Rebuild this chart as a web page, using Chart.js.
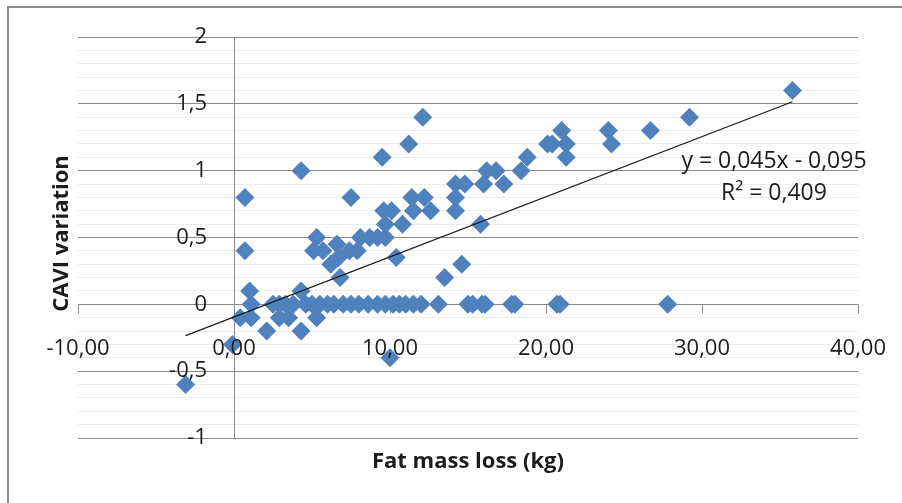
<!DOCTYPE html>
<html>
<head>
<meta charset="utf-8">
<script src="https://cdn.jsdelivr.net/npm/chart.js@4.4.0/dist/chart.umd.min.js"></script>
<style>
  html, body { margin: 0; padding: 0; background: #fff; }
</style>
</head>
<body>
<canvas id="chart" width="902" height="503"></canvas>
<script>
// Fat mass loss (kg) per patient
var fatLoss = [-3.1, -0.1, 0.4, 0.7, 0.7, 1.0, 1.1, 1.1, 2.1, 2.9, 2.9, 3.5, 4.3, 4.3, 4.3,
    5.3, 5.1, 5.3, 5.7, 6.2, 6.6, 6.7, 6.8, 7.4, 7.5, 7.9, 8.1, 8.7, 9.2, 9.5, 9.6, 9.7, 9.7,
    10.1, 10.4, 10.8, 10.0, 11.2, 11.4, 11.5, 12.1, 12.2, 12.6, 13.5, 14.2, 14.2, 14.2, 14.6,
    14.8, 15.8, 16.0, 16.2, 16.8, 17.3, 18.4, 18.8, 20.1, 20.4, 21.0, 21.3, 21.3, 24.0, 24.2,
    26.7, 29.2, 35.8,
    2.5, 3.3, 3.8, 4.6, 5.0, 5.5, 6.0, 6.4, 7.0, 7.5, 8.0, 8.6, 9.2, 9.7, 10.2, 10.6, 11.0,
    11.5, 12.0, 13.1, 15.0, 15.3, 15.9, 16.1, 17.8, 18.0, 20.7, 20.9, 27.8];

// CAVI variation for the same patients
var caviVar = [-0.6, -0.3, -0.1, 0.8, 0.4, 0.1, 0, -0.1, -0.2, 0, -0.1, -0.1, 1.0, 0.1, -0.2,
    -0.1, 0.4, 0.5, 0.4, 0.3, 0.45, 0.35, 0.2, 0.4, 0.8, 0.4, 0.5, 0.5, 0.5, 1.1, 0.7, 0.6, 0.5,
    0.7, 0.35, 0.6, -0.4, 1.2, 0.8, 0.7, 1.4, 0.8, 0.7, 0.2, 0.9, 0.8, 0.7, 0.3,
    0.9, 0.6, 0.9, 1.0, 1.0, 0.9, 1.0, 1.1, 1.2, 1.2, 1.3, 1.2, 1.1, 1.3, 1.2,
    1.3, 1.4, 1.6,
    0, 0, 0, 0, 0, 0, 0, 0, 0, 0, 0, 0, 0, 0, 0, 0, 0,
    0, 0, 0, 0, 0, 0, 0, 0, 0, 0, 0, 0];

// axis ticks (Excel style, comma decimals)
var xTicks = [-10, 0, 10, 20, 30, 40];
var xTickLabels = ['-10,00', '0,00', '10,00', '20,00', '30,00', '40,00'];
var yTicks = [2, 1.5, 1, 0.5, 0, -0.5, -1];
var yTickLabels = ['2', '1,5', '1', '0,5', '0', '-0,5', '-1'];

// linear trendline printed on the chart
var trendSlope = 0.045;
var trendIntercept = -0.095;
var trendText = ['y = 0,045x - 0,095', 'R\u00B2 = 0,409'];

var points = fatLoss.map(function (x, i) { return { x: x, y: caviVar[i] }; });
var xMin = Math.min.apply(null, fatLoss);
var xMax = Math.max.apply(null, fatLoss);
var trend = [
    { x: xMin, y: trendSlope * xMin + trendIntercept },
    { x: xMax, y: trendSlope * xMax + trendIntercept }
];

var FONT = '"Open Sans", "DejaVu Sans", sans-serif';
var AXIS_GRAY = '#898989';

// frame, axis through zero, labels and titles placed like Excel does it
var excelAxes = {
    id: 'excelAxes',
    beforeDraw: function (chart) {
        var ctx = chart.ctx;
        ctx.save();
        ctx.fillStyle = '#fff';
        ctx.fillRect(0, 0, chart.width, chart.height);
        ctx.strokeStyle = '#8c8c8c';
        ctx.lineWidth = 2;
        ctx.strokeRect(8, 7, chart.width + 20, chart.height + 20);
        ctx.restore();
    },
    beforeDatasetsDraw: function (chart) {
        var ctx = chart.ctx, xs = chart.scales.x, ys = chart.scales.y, area = chart.chartArea;
        var x0 = Math.round(xs.getPixelForValue(0)) + 0.5;
        var y0 = Math.round(ys.getPixelForValue(0)) + 0.5;
        ctx.save();
        ctx.strokeStyle = AXIS_GRAY;
        ctx.lineWidth = 1;
        ctx.beginPath();
        ctx.moveTo(x0, area.top);
        ctx.lineTo(x0, area.bottom);
        ctx.moveTo(area.left, y0);
        ctx.lineTo(area.right, y0);
        xTicks.forEach(function (v) {
            var px = Math.round(xs.getPixelForValue(v)) + 0.5;
            ctx.moveTo(px, y0);
            ctx.lineTo(px, y0 + 9);
        });
        ctx.stroke();
        ctx.restore();
    },
    afterDatasetsDraw: function (chart) {
        var ctx = chart.ctx, xs = chart.scales.x, ys = chart.scales.y, area = chart.chartArea;
        var x0 = xs.getPixelForValue(0);
        var y0 = ys.getPixelForValue(0);
        ctx.save();
        ctx.fillStyle = '#1c1c1c';
        ctx.font = '22px ' + FONT;
        ctx.textBaseline = 'middle';
        ctx.textAlign = 'center';
        xTicks.forEach(function (v, i) {
            ctx.fillText(xTickLabels[i], xs.getPixelForValue(v), y0 + 44);
        });
        ctx.textAlign = 'right';
        yTicks.forEach(function (v, i) {
            ctx.fillText(yTickLabels[i], x0 - 27, ys.getPixelForValue(v));
        });

        // trendline equation
        ctx.font = '23px ' + FONT;
        ctx.textAlign = 'center';
        ctx.textBaseline = 'alphabetic';
        ctx.fillText(trendText[0], 774, 168);
        ctx.fillText(trendText[1], 774, 200);

        // axis titles
        ctx.font = 'bold 22px ' + FONT;
        ctx.fillText('Fat mass loss (kg)', (area.left + area.right) / 2, 468);
        ctx.translate(68, (area.top + area.bottom) / 2 - 4);
        ctx.rotate(-Math.PI / 2);
        ctx.fillText('CAVI variation', 0, 0);
        ctx.restore();
    }
};

var ctx = document.getElementById('chart').getContext('2d');
var chart = new Chart(ctx, {
    type: 'scatter',
    data: {
        datasets: [{
            type: 'line',
            label: 'Trend',
            data: trend,
            borderColor: '#1a1a1a',
            borderWidth: 1.2,
            pointRadius: 0,
            fill: false,
            order: 0
        }, {
            label: 'CAVI',
            data: points,
            pointStyle: 'rectRot',
            pointRadius: 9.5,
            pointHoverRadius: 9.5,
            pointBorderWidth: 0,
            backgroundColor: '#4F81BD',
            borderColor: '#4F81BD',
            order: 1
        }]
    },
    options: {
        responsive: false,
        animation: false,
        events: [],
        layout: { padding: { left: 78, right: 44, top: 37, bottom: 65 } },
        plugins: { legend: { display: false }, tooltip: { enabled: false } },
        scales: {
            x: { type: 'linear', min: -10, max: 40, display: false },
            y: {
                type: 'linear',
                min: -1,
                max: 2,
                ticks: { display: false, stepSize: 0.1, maxTicksLimit: 40 },
                border: { display: false },
                grid: {
                    drawTicks: false,
                    lineWidth: 1,
                    color: function (c) {
                        var v = c.tick.value * 2;
                        return Math.abs(v - Math.round(v)) < 1e-6 ? AXIS_GRAY : '#ececec';
                    }
                },
                afterFit: function (scale) { scale.width = 0; }
            }
        }
    },
    plugins: [excelAxes]
});
</script>
</body>
</html>
